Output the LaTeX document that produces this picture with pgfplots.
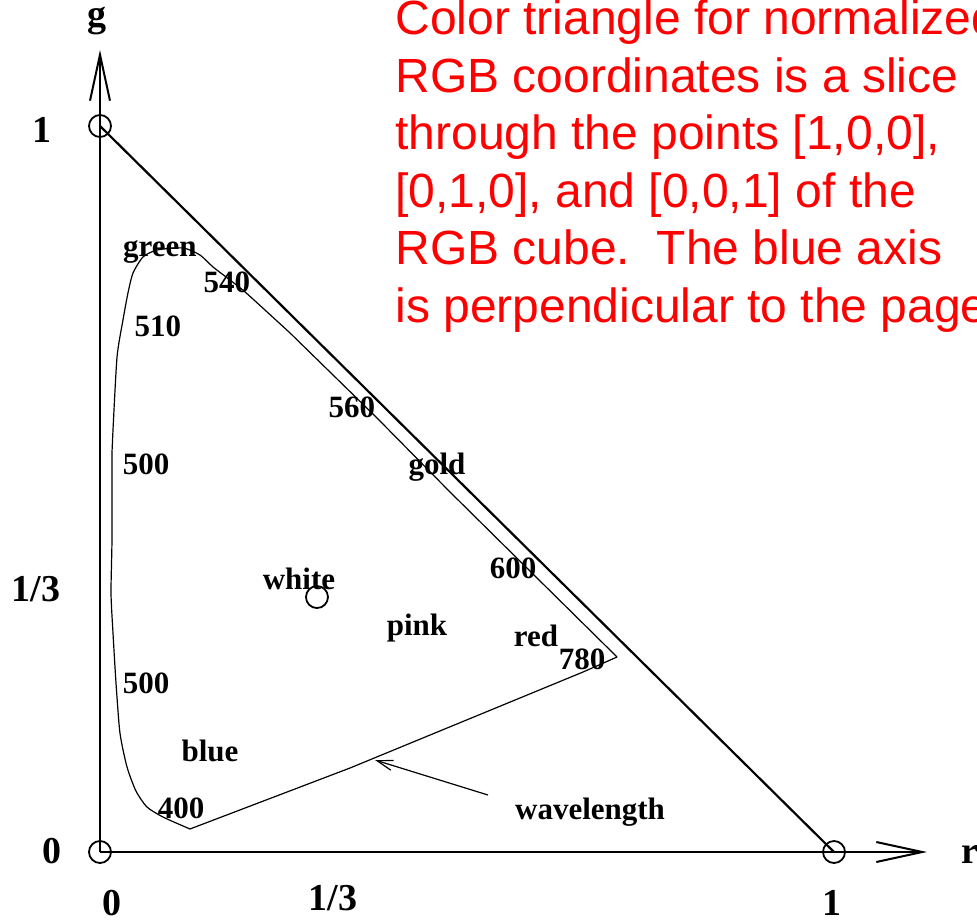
\documentclass[border=0pt]{standalone}
\usepackage{fontspec}
\setmainfont{Liberation Serif}
\newfontfamily\notefont{Liberation Sans}
\usepackage{pgfplots}
\pgfplotsset{compat=1.18}
\usetikzlibrary{arrows.meta}

\tikzset{
  lab/.style={font=\bfseries\fontsize{15.5}{18}\selectfont, inner sep=0pt, anchor=base},
  big/.style={font=\bfseries\fontsize{19}{22}\selectfont, inner sep=0pt, anchor=base},
  note/.style={font=\notefont\fontsize{24}{28.75}\selectfont, text=red, inner sep=0pt, anchor=base west},
}

\begin{document}
\begin{tikzpicture}
\path[use as bounding box] (0,0) rectangle (488.5pt,461.5pt);
\clip (0,0) rectangle (488.5pt,461.5pt);
\begin{axis}[
  at={(0,0)}, anchor=south west,
  width=488.5pt, height=461.5pt, scale only axis,
  xmin=-0.13624, xmax=1.19482, ymin=-0.09780, ymax=1.17355,
  hide axis, clip=false,
]
% r and g axes
\addplot[line width=1pt, -{Straight Barb[length=23pt,width=10pt]}] coordinates {(0,0) (1.1267,0)};
\addplot[line width=1pt, -{Straight Barb[length=23pt,width=10pt]}] coordinates {(0,0) (0,1.1047)};
% slice of the RGB cube: r + g = 1
\addplot[line width=1.1pt] coordinates {(0,1) (1,0)};
% corners and the white point
\addplot[only marks, mark=o, mark size=5.5pt, mark options={solid, line width=0.9pt}]
  coordinates {(0,0) (1,0) (0,1) (0.2956,0.3512)};
% spectral locus, curved part from 400 nm round the green peak
\addplot[line width=0.6pt, smooth, tension=0.4] coordinates {
  (0.1226,0.0317) (0.0858,0.0482) (0.0640,0.0620) (0.0490,0.0840)
  (0.0368,0.1171) (0.0272,0.1639) (0.0218,0.2328) (0.0177,0.3017)
  (0.0150,0.3567) (0.0163,0.4298) (0.0163,0.5496) (0.0177,0.5813)
  (0.0232,0.6818) (0.0313,0.7328) (0.0381,0.7700) (0.0450,0.7975)
  (0.0586,0.8196) (0.0777,0.8292) (0.1131,0.8320) (0.1362,0.8223)
  (0.1540,0.8058) (0.1771,0.7879) (0.2003,0.7690) (0.2589,0.7149)
};
% spectral locus, nearly straight part down to 780 nm
\addplot[line width=0.6pt] coordinates {
  (0.2589,0.7149) (0.3774,0.5978) (0.4768,0.4959) (0.5995,0.3733) (0.7044,0.2686)
};
% line of purples back to 400 nm
\addplot[line width=0.6pt] coordinates {
  (0.7044,0.2686) (0.6580,0.2479) (0.3406,0.1157) (0.1226,0.0317)
};
% pointer to the locus
\addplot[line width=0.6pt, -{Straight Barb[length=8pt,width=5pt]}]
  coordinates {(0.5286,0.0785) (0.3747,0.1267)};

% axis names and values
\node[big] at (-0.0041,1.1364) {g};
\node[big, anchor=base west] at (1.1730,-0.0152) {r};
\node[big] at (-0.0790,0.9766) {1};
\node[big] at (-0.0872,0.3444) {1/3};
\node[big] at (-0.0654,-0.0152) {0};
\node[big] at (0.0163,-0.0868) {0};
\node[big] at (0.3174,-0.0799) {1/3};
\node[big] at (0.9973,-0.0868) {1};

% wavelengths and colour names
\node[lab] at (0.0817,0.8196) {green};
\node[lab] at (0.1730,0.7713) {540};
\node[lab] at (0.0790,0.7094) {510};
\node[lab] at (0.0627,0.5193) {500};
\node[lab] at (0.0627,0.2190) {500};
\node[lab] at (0.1499,0.1240) {blue};
\node[lab] at (0.1104,0.0468) {400};
\node[lab] at (0.2711,0.3609) {white};
\node[lab] at (0.3433,0.5978) {560};
\node[lab] at (0.4591,0.5193) {gold};
\node[lab] at (0.5627,0.3774) {600};
\node[lab] at (0.4319,0.2989) {pink};
\node[lab] at (0.5940,0.2824) {red};
\node[lab] at (0.6567,0.2507) {780};
\node[lab] at (0.6676,0.0441) {wavelength};

% caption
\node[note] at (0.4019,1.1260) {Color triangle for normalized};
\node[note] at (0.4019,1.0468) {RGB coordinates is a slice};
\node[note] at (0.4019,0.9676) {through the points [1,0,0],};
\node[note] at (0.4019,0.8884) {[0,1,0], and [0,0,1] of the};
\node[note] at (0.4019,0.8092) {RGB cube.\ \ The blue axis};
\node[note] at (0.4019,0.7300) {is perpendicular to the page.};
\end{axis}
\end{tikzpicture}
\end{document}
